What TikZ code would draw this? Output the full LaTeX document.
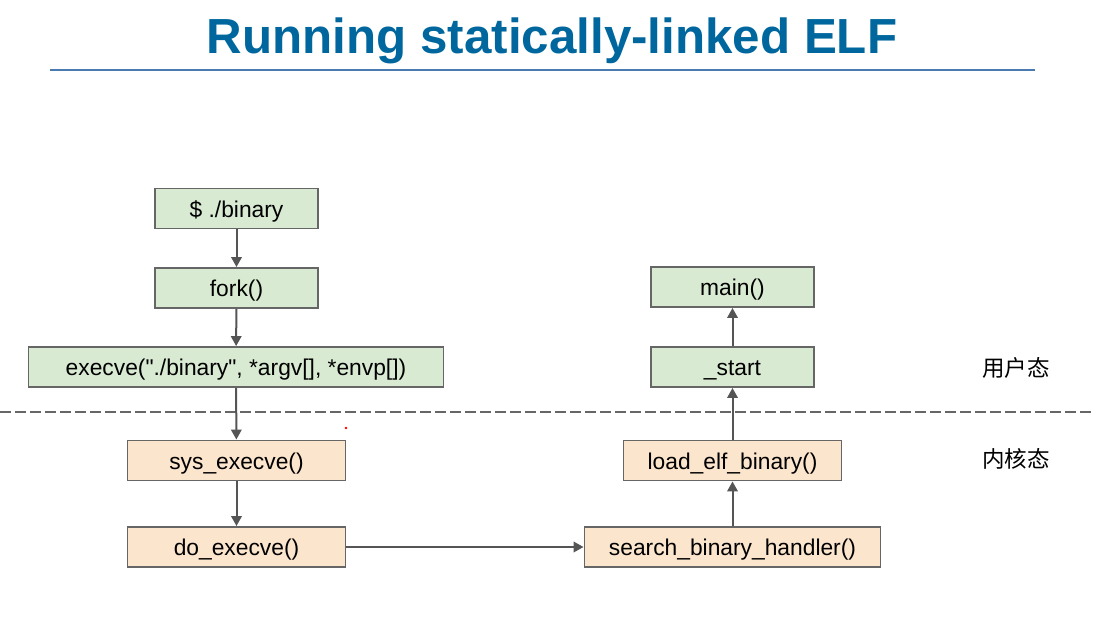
\documentclass[tikz,border=0pt]{standalone}
\usepackage{fontspec}
\setmainfont{Liberation Sans}[Ligatures=TeXOff]
\newfontfamily\cjk{Noto Sans CJK SC}
\usetikzlibrary{arrows.meta}

\definecolor{titleblue}{HTML}{00679E}
\definecolor{ruleblue}{HTML}{4A7AB0}
\definecolor{userfill}{HTML}{D9EAD3}
\definecolor{kernfill}{HTML}{FCE5CD}
\definecolor{edgegray}{HTML}{666666}
\definecolor{arrowgray}{HTML}{555555}

\tikzset{
  box/.style={draw=edgegray, line width=1.9pt, inner sep=0pt,
              minimum height=40pt, text height=19pt, text depth=1.4pt,
              font=\fontsize{22.8}{26}\selectfont, text=black},
  userbox/.style={box, fill=userfill},
  kernbox/.style={box, fill=kernfill},
  flow/.style={draw=arrowgray, line width=2pt,
               -{Triangle[length=10pt,width=10.5pt]}},
  modelabel/.style={font=\cjk\fontsize{22.5}{26}\selectfont, text=black},
}

\begin{document}
\begin{tikzpicture}[x=1pt, y=-1pt]
  \useasboundingbox (0,0) rectangle (1095,643);

  % heading and rule
  \node[font=\bfseries\fontsize{49.3}{54}\selectfont, text=titleblue, anchor=base]
    (title) at (552,53) {Running statically-linked ELF};
  \draw[ruleblue, line width=2pt] (50,70) -- (1035,70);

  % boundary between user and kernel mode
  \draw[edgegray, line width=1.7pt, dash pattern=on 10.5pt off 4.5pt] (0,412) -- (1093,412);

  % user-mode steps
  \node[userbox, minimum width=163pt] (shell)  at (236.5,208.5) {\$ ./binary};
  \node[userbox, minimum width=163pt] (fork)   at (236.5,288)   {fork()};
  \node[userbox, minimum width=415pt] (execve) at (236,367)     {execve("./binary", *argv[], *envp[])};
  \node[userbox, minimum width=163pt] (start)  at (732.5,367)   {\_start};
  \node[userbox, minimum width=163pt] (main)   at (732.5,287)   {main()};

  % kernel-mode steps
  \node[kernbox, minimum width=218pt] (sysexec) at (236.5,460.5) {sys\_execve()};
  \node[kernbox, minimum width=218pt] (doexec)  at (236.5,547)   {do\_execve()};
  \node[kernbox, minimum width=296pt] (search)  at (732.5,547)   {search\_binary\_handler()};
  \node[kernbox, minimum width=218pt] (loadelf) at (732.5,460.5) {load\_elf\_binary()};

  % mode labels
  \node[modelabel] (usermode) at (1016,368) {用户态};
  \node[modelabel] (kernmode) at (1016,459) {内核态};

  % call flow
  \draw[flow] (shell) -- (fork);
  \draw[flow] (fork) -- (execve);
  \draw[flow] (execve) -- (sysexec);
  \draw[flow] (sysexec) -- (doexec);
  \draw[flow] (doexec) -- (search);
  \draw[flow] (search) -- (loadelf);
  \draw[flow] (loadelf) -- (start);
  \draw[flow] (start) -- (main);

  % small red mark
  \fill[red] (346,428) circle (1.3pt);
\end{tikzpicture}
\end{document}
